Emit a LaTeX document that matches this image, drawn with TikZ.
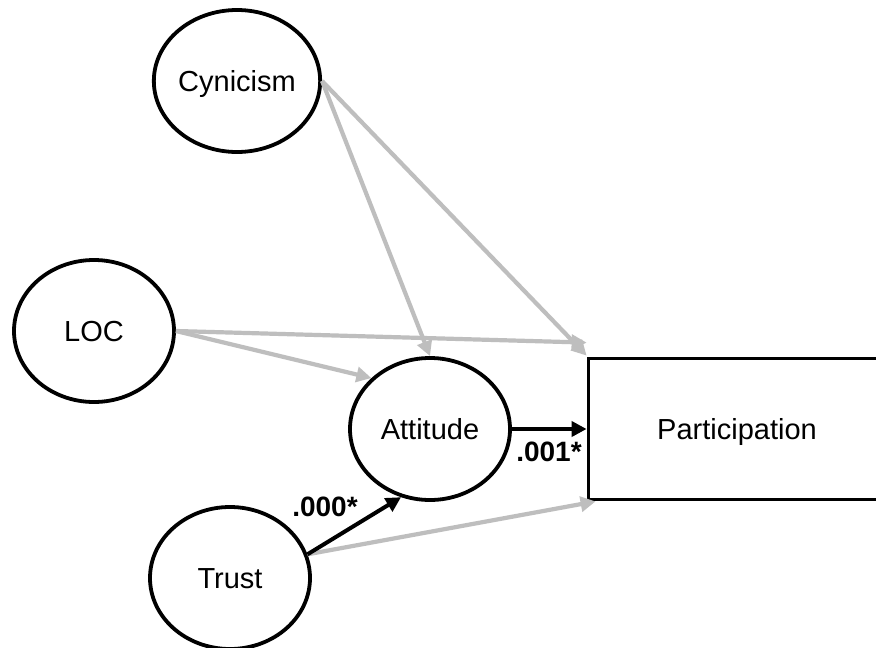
\documentclass[tikz,border=0pt]{standalone}
\usepackage{fontspec}
\setmainfont{Liberation Sans}
\usetikzlibrary{shapes.geometric,arrows.meta,calc}
\definecolor{pathgray}{RGB}{190,190,190}
\tikzset{
  latent/.style={ellipse, draw=black, line width=3.8pt, minimum width=160pt,
    minimum height=142pt, inner sep=0pt, text height=20.8pt, text depth=0pt,
    font=\fontsize{29}{34}\selectfont},
  outcome/.style={rectangle, draw=black, line width=3.8pt, minimum width=297pt,
    minimum height=141pt, inner sep=0pt, text height=20.8pt, text depth=0pt,
    font=\fontsize{29}{34}\selectfont},
  nspath/.style={draw=pathgray, line width=4.2pt,
    -{Triangle[length=15pt,width=15pt]}},
  sigpath/.style={draw=black, line width=4pt,
    -{Triangle[length=15pt,width=15pt]}},
  coef/.style={font=\bfseries\fontsize{28}{33}\selectfont, inner sep=0pt}
}
\begin{document}
\begin{tikzpicture}[x=1pt,y=-1pt]
  \useasboundingbox (0,0) rectangle (876,648);
  \clip (0,0) rectangle (876,648);
  \fill[white] (0,0) rectangle (876,648);

  % constructs
  \node[latent] (cyn) at (237,81) {Cynicism};
  \node[latent] (loc) at (94,331) {LOC};
  \node[latent] (att) at (430,429) {Attitude};
  \node[latent] (tru) at (230,578) {Trust};
  \node[outcome] (par) at (737,429) {Participation};

  % entry points on the outcome box
  \coordinate (parA) at ($(par.north west)+(0,-1)$);
  \coordinate (parB) at ($(par.north west)+(0,-14)$);
  \coordinate (parC) at ($(par.south west)+(9,0)$);

  % non-significant paths
  \draw[nspath] (cyn.east) -- (att.north);
  \draw[nspath] (cyn.east) -- (parA);
  \draw[nspath] (loc.east) -- (att.139);
  \draw[nspath] (loc.east) -- (parB);
  \draw[nspath] (tru.17) -- (parC);

  % significant paths
  \draw[sigpath] (att.east) -- (par.west);
  \draw[sigpath] (tru.17) -- (att.247);

  % coefficients
  \node[coef] (c1) at (549,452) {.001*};
  \node[coef] (c2) at (325,507) {.000*};
\end{tikzpicture}
\end{document}
